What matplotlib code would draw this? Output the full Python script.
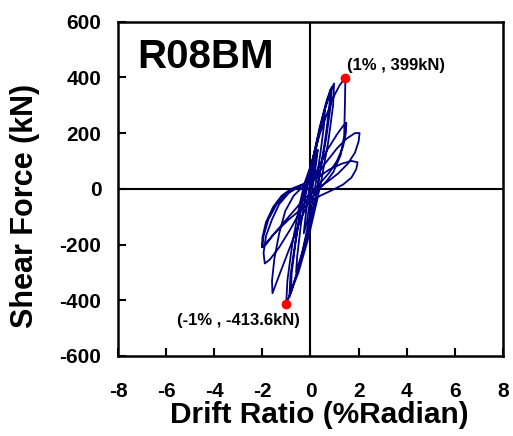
import matplotlib.pyplot as plt

plt.rcParams['font.family'] = ['Liberation Sans', 'DejaVu Sans']
plt.rcParams['font.weight'] = 'bold'
plt.rcParams['axes.unicode_minus'] = False

# hysteresis path, drift ratio (%) and shear force (kN), in loading order
drift = [
    0.0, 0.1, 0.2, 0.3, 0.25, 0.15, 0.08, -0.05, -0.15, -0.28, -0.22, -0.12, -0.05,
    0.05, 0.2, 0.4, 0.6, 0.55, 0.4, 0.22, 0.1, -0.1, -0.35, -0.6, -0.55, -0.4, -0.22, -0.1,
    0.05, 0.3, 0.55, 0.82, 0.78, 0.6, 0.35, 0.2, -0.1, -0.45, -0.82, -0.78, -0.6, -0.35, -0.15,
    0.05, 0.32, 0.58, 0.88, 0.84, 0.65, 0.38, 0.2, -0.12, -0.5, -0.88, -0.83, -0.63, -0.38, -0.18,
    0.08, 0.38, 0.68, 0.98, 0.94, 0.74, 0.45, 0.25, -0.1, -0.5, -1.01, -0.96, -0.76, -0.46, -0.25,
    0.0, 0.4, 0.9, 1.2, 1.45, 1.43, 1.4, 1.25, 0.95, 0.6, 0.25, -0.1, -0.5, -0.9, -1.3, -1.58,
    -1.6, -1.5, -1.3, -1.05, -0.7, -0.35, -0.05,
    0.3, 0.7, 1.1, 1.35, 1.49, 1.47, 1.35, 1.1, 0.8, 0.45, 0.1, -0.3, -0.8, -1.3, -1.7, -1.9,
    -1.95, -1.85, -1.6, -1.3, -0.9, -0.45,
    0.1, 0.6, 1.1, 1.5, 1.85, 2.04, 2.0, 1.85, 1.55, 1.15, 0.7, 0.25, -0.3, -0.9, -1.5, -1.85, -2.0,
    -2.0, -1.85, -1.55, -1.2, -0.8, -0.35,
    0.2, 0.8, 1.3, 1.7, 1.96, 1.9, 1.7, 1.35, 0.9, 0.4, -0.2, -0.9, -1.5, -1.85, -2.02,
    -1.95, -1.75, -1.4, -1.0, -0.5, 0.0,
]
force = [
    0, 50, 100, 140, 100, 40, 0, -60, -120, -160, -110, -40, 0,
    50, 130, 220, 280, 220, 120, 20, -40, -130, -230, -300, -240, -130, -30, 20,
    80, 180, 270, 355, 290, 170, 40, -40, -150, -270, -375, -300, -180, -50, 30,
    90, 190, 280, 365, 300, 180, 50, -40, -160, -285, -390, -310, -190, -60, 25,
    100, 220, 320, 378, 300, 170, 30, -50, -180, -300, -413.6, -330, -200, -60, 20,
    80, 200, 320, 370, 399, 300, 190, 120, 60, 20, -10, -50, -130, -220, -310, -375,
    -330, -250, -160, -80, -25, 5, 20,
    70, 140, 195, 225, 237, 200, 150, 100, 60, 25, -10, -60, -140, -210, -255, -268,
    -230, -170, -110, -55, -15, 10,
    30, 90, 145, 180, 200, 200, 170, 130, 90, 55, 25, 0, -40, -100, -160, -200, -210,
    -175, -120, -65, -25, 0, 15,
    35, 70, 90, 100, 95, 70, 40, 15, -5, -25, -60, -110, -160, -195, -210,
    -170, -110, -55, -15, 5, 0,
]

peak_x = [1.45, -1.01]
peak_y = [399, -413.6]
peak_labels = ['(1% , 399kN)', '(-1% , -413.6kN)']

fig = plt.figure(figsize=(5.13, 4.36), dpi=100)
ax = fig.add_axes([0.230, 0.1835, 0.7505, 0.767])

ax.axhline(0, color='black', lw=1.5, zorder=1)
ax.axvline(0, color='black', lw=1.5, zorder=1)
ax.plot(drift, force, color='#000080', lw=1.3, zorder=2)
ax.plot(peak_x, peak_y, 'o', color='red', ms=6, zorder=3)

ax.text(1.52, 425, peak_labels[0], fontsize=12, fontweight='bold')
ax.text(-5.55, -490, peak_labels[1], fontsize=12, fontweight='bold')
ax.text(-7.2, 432, 'R08BM', fontsize=29, fontweight='bold')

ax.set_xlim(-8, 8)
ax.set_ylim(-600, 600)
ax.set_xticks(range(-8, 9, 2))
ax.set_yticks(range(-600, 601, 200))
ax.tick_params(direction='in', length=6, width=1.5, labelsize=15)
ax.tick_params(axis='x', pad=19)
ax.tick_params(axis='y', pad=12)
for lab in ax.get_xticklabels() + ax.get_yticklabels():
    lab.set_fontweight('bold')
for sp in ax.spines.values():
    sp.set_linewidth(1.8)

ax.set_xlabel('Drift Ratio (%Radian)', fontsize=21.5, fontweight='bold', labelpad=0, x=0.522)
ax.set_ylabel('Shear Force (kN)', fontsize=22, fontweight='bold', labelpad=14, y=0.45)

fig.savefig('out.png', dpi=100)
